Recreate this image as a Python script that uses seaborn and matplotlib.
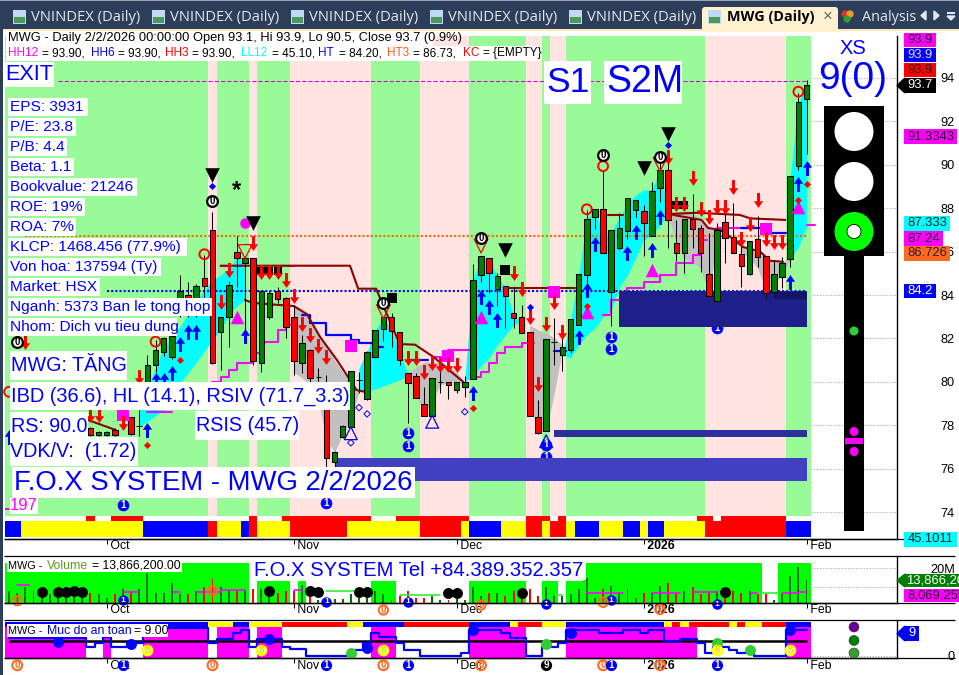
import numpy as np
import matplotlib
matplotlib.use("Agg")
import matplotlib.pyplot as plt
from matplotlib.path import Path
from matplotlib.patches import Rectangle, Circle, Polygon, FancyBboxPatch
import seaborn as sns

sns.set_theme(style="ticks")
plt.rcParams['font.family'] = ['Liberation Sans', 'DejaVu Sans']
N = np.nan

# ---------- candles (bar index = position in these lists) ----------
OPEN = [N]*10 + [77.87,77.55,77.55,77.78,N,78.37,77.98,79.85,80.77,81.36,81.15,83.2,84.0,83.2,84.77,86.98,82.28,82.97,85.97,85.46,
 85.69,80.85,82.97,84.17,83.85,82.97,80.85,81.45,80.24,79.02,76.29,77.47,77.93,80.07,79.19,81.16,82.45,82.99,82.28,80.39,
 80.25,78.96,78.44,79.99,79.99,79.63,79.78,80.14,84.94,85.69,84.26,84.43,83.16,82.99,82.28,78.36,77.75,81.85,81.24,81.46,
 82.63,84.94,87.58,87.95,84.15,86.15,86.96,87.93,87.87,86.73,88.95,89.76,86.4,85.95,87.5,87.07,84.95,83.74,87.35,86.66,
 85.88,84.95,86.57,85.8,84.15,84.85,85.67,89.96,93.05]
HIGH = [N]*10 + [77.9,77.75,77.75,77.85,N,78.4,78.7,81.23,81.93,82.05,82.43,84.9,84.61,84.5,85.84,87.83,83.0,84.65,86.72,85.8,
 85.7,84.2,84.2,84.37,83.9,83.54,82.16,81.5,80.62,80.31,76.8,78.0,80.5,80.47,81.4,82.4,83.0,83.17,82.3,80.4,
 80.4,79.77,80.18,80.54,80.0,80.0,80.27,85.41,85.8,85.7,85.01,84.43,84.37,83.54,82.3,79.16,81.96,82.94,82.3,82.9,
 84.95,87.92,87.95,89.76,86.98,87.78,88.45,88.36,88.15,89.22,90.14,90.3,87.46,87.5,88.65,87.23,86.86,87.32,87.78,88.24,
 86.54,86.5,87.64,85.8,85.6,85.75,89.5,93.32,93.9]
LOW = [N]*10 + [77.5,77.5,77.5,77.5,N,77.55,77.5,79.7,80.45,81.19,81.06,83.0,83.0,83.0,83.77,80.8,80.54,81.62,84.38,82.39,
 80.77,80.45,82.9,83.63,82.0,80.31,80.4,79.9,79.85,76.09,75.7,77.4,77.9,79.5,79.15,81.1,81.89,81.62,80.77,78.12,
 79.25,78.44,78.42,79.5,79.2,79.5,79.31,80.14,84.61,84.1,83.51,82.5,82.5,82.26,78.42,77.6,77.75,80.77,80.52,81.33,
 82.6,84.46,87.03,85.95,82.57,86.07,86.6,87.6,85.81,86.7,88.3,86.18,85.58,85.0,86.17,85.07,83.97,83.74,85.49,85.93,
 84.38,84.9,85.3,83.86,84.1,84.32,85.3,89.76,90.5]
CLOSE = [N]*10 + [77.55,77.7,77.7,77.55,N,77.58,77.98,80.77,81.47,82.0,82.11,84.17,83.3,84.43,84.43,80.85,82.97,84.45,85.69,85.69,
 80.97,84.17,84.08,83.83,82.54,80.97,81.77,80.16,80.24,76.47,76.75,77.96,80.48,80.07,81.36,82.37,82.97,82.36,81.0,79.96,
 79.27,78.44,80.16,79.99,79.87,79.99,79.99,84.69,85.8,85.03,84.87,83.97,82.96,82.26,78.44,77.65,81.96,81.85,81.59,82.9,
 84.95,87.5,87.95,85.95,86.98,87.07,88.45,88.36,87.33,88.79,89.76,87.47,85.95,87.49,87.05,85.95,83.97,86.98,86.64,85.95,
 85.35,86.47,85.77,84.09,84.95,85.46,89.48,92.89,93.66]
VOLUME = [8,7,10,8,6,6,7,6,6,6,7,6,4,6,9,8,9,17.5,7,7,12,6,6,8,10,14.5,10,8,8,8,
 9,9,8,7,8,8,11,8,3,4,3.5,3.5,6,4,4,8,6,3,5,8,4,4,5,3,3,3.5,3,10,5,7,
 7,5,8,7,9,5,10,6,5,6,9,15,4,9,10.5,7,9,4,7,7,10.5,12,7,8,10,6,7,8,7,8,
 7,8,6,6,3,6,15.7,20.7,13.9]
SAFETY = [6.1]*10 + [3.2,4.4,6.7,3.2,3.2,4.4,4.4] + [9.6]*8 + [4.4,5.9,5.9,7.8,9.0,3.2,5.9,5.9,5.9,3.2,2.5,2.5] + [0.1]*6 + \
 [2.1,4.4,7.8,6.7,6.7,4.4,2.1,2.1] + [0.1]*5 + [0.9,9,9,9,9,7.8,6.1,6.1,0.1,0.1,3.2,3.2,4.4,9,9,9,9,8.1,8.1,8.1,9,9,8.1,9,9,5.3,5.3,5.9,5.9,4.4,0.9,3.2,3.2,2.1,0.9,0.9,0.1,0.1,0.1,0.1,9,9,9]

# ---------- state runs: (bars, state) ----------
TREND_RUNS = [(25,'g'),(1,'p'),(4,'g'),(1,'p'),(4,'g'),(10,'p'),(6,'g'),(6,'p'),(7,'g'),(2,'p'),(1,'g'),(2,'p'),(17,'g'),(10,'p'),(3,'g')]
STRIP_TOP = [(10,''),(1,'r'),(2,''),(4,'r'),(13,''),(1,'r'),(3,''),(11,'r'),(3,''),(9,'r'),(7,''),(3,'r'),(1,''),(1,'r'),(16,''),(2,'r'),(1,''),(8,'r'),(3,'')]
STRIP_BOT = [(2,'b'),(15,'y'),(8,'b'),(1,'r'),(3,'y'),(1,'b'),(1,'r'),(4,'y'),(7,'r'),(9,'y'),(5,'r'),(1,'y'),(4,'b'),(3,'y'),(2,'r'),(1,'y'),(2,'r'),(1,'y'),(3,'b'),(3,'y'),(2,'b'),(1,'y'),(2,'b'),(5,'y'),(10,'r'),(3,'b')]
VOL_RUNS = [(30,'t'),(1,''),(4,'s'),(1,''),(1,'s'),(8,''),(3,'s'),(9,''),(7,'s'),(2,''),(2,'s'),(1,''),(2,'s'),(22,'t'),(2,''),(4,'t')]
SAFE_STRIP = [(25,'b'),(3,'y'),(2,'b'),(4,'y'),(8,'r'),(2,'y'),(5,'b'),(8,'r'),(5,'b'),(1,'y'),(3,'r'),(3,'y'),(12,'b'),(1,'y'),(1,'r'),(1,'y'),(5,'r'),(1,'y'),(1,'r'),(2,'y'),(3,'r'),(3,'b')]
SAFE_FILL = [(10,'m'),(2,''),(1,'m'),(4,''),(8,'m'),(1,''),(4,'m'),(1,''),(3,'m'),(11,''),(3,'m'),(9,''),(7,'m'),(5,''),(16,'m'),(11,''),(3,'m')]

# ---------- overlays on price ----------
CYAN = [
 ([16,19,21,23,25,26,27,28,29],[78.7,81.6,82.52,83.77,84.69,84.92,85.24,85.7,85.5],[77.92,78.7,79.94,80.9,81.93,82.39,83.08,83.5,83.77]),
 ([43,44,45,46,47,48,49],[80.64,81.37,82.39,82.94,82.39,81.47,80.31],[79.62,79.58,79.67,79.81,79.95,80.08,80.31]),
 ([56,57,58,59,60,61,62,63],[80.08,84.69,85.75,85.52,84.92,84.23,83.08,82.76],[79.99,80.31,80.73,81.1,81.7,82.16,82.62,82.76]),
 ([68,69,70,71,72,73,74,75,76,77,78,79,80,81,82],[81.23,82.85,84.92,87.5,87.96,86.67,86.9,87.55,88.24,88.6,88.84,88.84,89.76,87.78,87.73],
  [81.23,81.1,81.7,82.16,82.48,82.99,83.31,84.37,84.92,85.7,86.53,86.77,87.23,87.69,87.73]),
 ([96,97,98],[89.48,92.85,93.68],[85.7,86.21,87.13]),
]
GRAY = [
 ([35,36,37,38,39,40,41,42,43],[83.49,83.3,82.85,82.2,81.65,81.0,80.45,80.0,79.62],[80.45,80.18,79.85,79.16,77.32,76.77,77.55,78.24,79.53]),
 ([49,50,51,52,53,54,55,56],[80.41,80.68,80.91,80.91,80.87,80.77,80.45,79.99],[80.22,79.39,78.56,79.16,79.85,79.99,79.99,79.9]),
 ([64,65,66,67,68],[82.62,82.39,82.25,82.02,81.7],[79.02,77.64,77.78,79.48,81.47]),
 ([81,82,83,84,85,86,87],[87.69,87.73,87.78,87.78,87.46,87.09,87.0],[87.64,86.3,85.7,85.52,85.24,84.0,86.53]),
 ([90,91,92,93,94,95,96],[86.21,86.07,85.98,85.7,85.52,85.52,85.7],[85.98,85.7,85.24,84.23,84.55,84.92,85.7]),
]
BROWN = [
 ([26,41.9,42.9,45.1,48,49.9,52.1,55.8],[85.35,85.35,84.29,84.29,81.74,81.71,81.16,80.0]),
 ([61,69.6],[84.32,84.32]),
 ([73.6,75.5],[87.69,87.69]),
 ([81,84.5,89.8,91.1,95.4],[87.73,87.79,87.69,87.53,87.46]),
 ([29,30,35,36.6,38.2,40.3,42.7,43.7],[83.77,83.63,83.49,83.12,82.08,81.0,79.62,79.54]),
 ([9.7,13.1],[78.24,77.78]),
 ([81.6,85.1,85.9,87.4,88.6,90.2,92.3,93.5,95.1],[87.69,87.46,87.09,87.0,86.69,86.21,86.0,85.58,85.53]),
]
MAGENTA = [
 ([25,26,27,28,30,31,33,34,35],[80.0,80.24,80.54,80.88,81.34,81.85,82.39,82.62,82.62]),
 ([17,20],[78.62,78.62]),
 ([26,27],[85.35,85.35]),
 ([33,35],[85.35,85.35]),
 ([52,54,57,57.4],[81.16,81.47,82.25,82.7]),
 ([57,58,59,60,61,63,64.5],[80.2,80.47,80.87,81.33,81.62,81.77,81.77]),
 ([73,74,76,78,80,82,84,85,85.8],[83.08,83.77,84.32,84.6,84.92,85.47,85.84,86.53,86.53]),
 ([87,91],[87.09,87.09]),
 ([98,99],[87.24,87.24]),
]
BLUE_STEP = [
 ([36,37,39,41,42,43,45,46],[83.08,82.71,82.16,82.16,81.93,81.79,81.6,81.6]),
 ([49,51.5],[81.0,81.0]),
 ([67,68.5],[81.4,81.4]),
 ([90,93,95.5],[87.09,86.85,86.85]),
]
ZONES = [(75,98.06,84.2,82.53,'#1F1F8C'),(94,98.06,84.14,83.82,'#141466'),(40,98.06,76.49,75.43,'#4040C0'),(67,98.06,77.78,77.46,'#2E2E9C')]
H_LEVELS = [(6,98,93.86,'#CC00CC',(0,(4,2)),0.75),(2,98,86.73,'#FF6600',(0,(1,1)),1.5),(12,98,84.2,'#0000FF',(0,(1,1)),1.5)]

UP_BARS = [98,97,96,80,79,77,76,72,71,70,58,59,60,57,29,22,23,21,20,19,18,17,0]
UP_VALS = [89.84,89.12,84.61,87.61,86.07,86.92,85.92,86.35,84.23,82.08,83.92,83.43,82.85,79.5,82.12,82.31,82.31,81.73,80.42,80.08,80.08,77.78,77.46]
DN_BARS = [84,89,92,85,87,88,82,83,86,91,90,93,94,95,81,62,63,64,66,67,68,65,49,50,51,52,53,54,55,27,26,30,31,32,33,34,35,36,37,38,39,16,10,11,14,2]
DN_VALS = [89.38,88.96,88.38,87.95,88.04,88.04,88.18,88.18,87.61,87.26,86.57,86.57,86.46,86.46,90.35,85.03,84.26,82.97,82.65,83.66,82.28,79.88,81.1,81.1,80.47,80.85,80.77,80.77,80.77,85.15,83.66,86.41,85.05,85.05,85.05,84.69,83.95,82.66,82.16,81.66,81.16,80.24,78.47,78.47,78.1,81.85]
MTRI_B, MTRI_V = [28,58,79,97,71],[82.97,83.0,85.15,88.07,83.23]
BTRI_B, BTRI_V = [25,30,61,81,78],[89.53,87.33,86.07,91.41,89.84]
RTRI_B, RTRI_V = [29,46,58,80],[86.0,83.23,86.26,90.02]
ZERO_B, ZERO_V = [25,46,58,73,80,1],[88.33,83.62,86.64,90.45,90.36,81.83]
RRING_B, RRING_V = [24,18,71,73,97,0],[85.88,81.85,87.95,89.94,93.37,79.54]
BDIA_B, BDIA_V = [25,81,64],[89.03,90.9,83.46]
RDIA_B, RDIA_V = [21,17,57,98,97,71],[81.0,77.09,78.79,89.12,88.38,83.49]
MSQ_B, MSQ_V = [42,54,67,93,14],[81.66,81.2,84.15,87.03,78.47]
BSQ_B, BSQ_V = [47,61],[83.88,85.15]
BSQS_B, BSQS_V = [82,83,31,32,33],[88.15,88.15,85.1,85.1,85.1]
HTRI_B, HTRI_V = [52,42,66],[78.16,77.63,77.26]
HDIA_B, HDIA_V = [43,44,42,56],[78.81,78.52,77.19,78.62]
ONE_B, ONE_V = [49,49,14,39,74,74,66,66,87],[77.65,77.04,74.32,74.41,81.51,82.08,77.09,76.55,82.48]
STAR_B, STAR_V = 28, 88.8
MCIRC_B, MCIRC_V = 29, 87.3

# volume panel
VDOT_B = [4,6,7,8,9,32,37,38,43,44,54,55,63,88]
VDOT_V = [7.5,7.5,7.5,7.8,7.5,7.7,7.7,7.5,7.2,7.2,6.9,6.8,6.8,7.1]
VMA_M = [([1,2.5],[11,11]),([14,16],[7.5,7.5]),([20,21],[7.5,7.5]),([23,26,29],[7.5,8.5,8.5]),([35,36],[8.5,8.5]),([71,75.5],[6.9,6.9]),([79,82.5],[6.9,6.9]),([84,87],[7.1,7.1]),([91,92],[7,7]),([95,97,98],[6.9,7.1,7.5])]
VMA_G = [([39,44],[8,6.9]),([48,53],[5.7,5.7]),([67,68],[5.5,5.5]),([92,94.5],[6.9,6.9])]
VORG_B, VORG_V = [1,46,58,73,80,25],[2.67,-2.3,0.37,1.8,-2,7.86]
VONE_B, VONE_V = [14,39,49,66,74,87],[3,2,2,0.9,3,0.9]

# safety panel
SBLUE_B, SBLUE_V = [6,15,32,44,57,69,96],[5,4,5.9,2.9,9,7.8,9]
SGRN_B, SGRN_V = [42,66,87,91],[0.9,4.15,4.4,2]
S8_B = [17,31,46,87,96]; S8_V = 2.08
ROW_ORG = [1,25,46,58,73,80]; ROW_ONE = [14,39,49,74,87]; ROW_NINE = [66]; ROW_V = -3.2

X_TICKS = [12,35,55,78,98]
X_LABELS = [' Oct',' Nov',' Dec',' 2026',' Feb']
Y_TICKS = [74,76,78,80,82,84,86,88,90,92,94]

# ---------- layout ----------
W, H = 959, 675
fig = plt.figure(figsize=(W/100, H/100), dpi=100, facecolor='white')
def axpx(x0, x1, yt, yb, **k):
    return fig.add_axes([x0/W, 1-yb/H, (x1-x0)/W, (yb-yt)/H], **k)
XL = (-0.5, 109.12)
MAIN_T, MAIN_B = 36, 539
ax = axpx(5, 897, MAIN_T, MAIN_B)
vx = axpx(5, 897, 556, 603)
sx = axpx(5, 897, 620, 658.3)

PAL = {'g':'#98FB98','p':'#FFE4E1','r':'#FF0000','y':'#FFFF00','b':'#0000FF','t':'#00FF00','s':'#00FF00','m':'#FF00FF'}
def runs(a, rr, y0, y1, z=1):
    k = 0
    for n, s in rr:
        if s:
            a.axvspan(k-.5, k+n-.5, ymin=y0, ymax=y1, color=PAL[s], lw=0, zorder=z)
        k += n
def frac(y, t=MAIN_T, b=MAIN_B):
    return (b-y)/(b-t)

runs(ax, TREND_RUNS, frac(516), 1)
runs(ax, STRIP_TOP, frac(521), frac(516))
runs(ax, STRIP_BOT, frac(537), frac(521))

for b, u, l in GRAY:
    ax.fill_between(b, l, u, color='#C0C0C0', lw=0, zorder=2)
for b, u, l in CYAN:
    ax.fill_between(b, l, u, color='#00FFFF', lw=0, zorder=2.1)
for x0, x1, v, c, ls, lw in H_LEVELS:
    ax.hlines(v, x0, x1, color=c, linestyles=[ls], lw=lw, zorder=2.5)

def line(a, x, y, c, lw, ds='default', z=3):
    sns.lineplot(x=x, y=y, ax=a, color=c, linewidth=lw, estimator=None, sort=False,
                 drawstyle=ds, legend=False, zorder=z, errorbar=None)
for x, y in MAGENTA:
    line(ax, x, y, '#FF00FF', 1.5, 'steps-post')
for x, y in BLUE_STEP:
    line(ax, x, y, '#0000FF', 1.6, 'steps-post')
for x, y in BROWN:
    line(ax, x, y, '#8B0000', 1.5)

def pts(a, b, v, m, s, c, ec=None, lw=0, z=6):
    sns.scatterplot(x=b, y=v, ax=a, marker=m, s=s, color=c, edgecolor=ec if ec else c,
                    linewidth=lw, zorder=z, legend=False, clip_on=False)
def hollow(a, b, v, m, s, ec, lw=1.0, fc='none', z=6):
    a.scatter(b, v, marker=m, s=s, facecolors=fc, edgecolors=ec, linewidths=lw, zorder=z, clip_on=False)

def circled(a, b, v, t, fc, ec, tc, s=60, lw=1.5, z=3, fs=7):
    hollow(a, b, v, 'o', s, ec, lw, fc, z)
    for bb, yy in zip(b, v):
        a.text(bb, yy, t, ha='center', va='center', color=tc, fontsize=fs, fontweight='bold', zorder=z+.1)

# blue circled ones lie below the zones
circled(ax, ONE_B, ONE_V, '1', '#0000FF', '#0000FF', 'white', s=62, lw=0.5)
for x0, x1, t, b, c in ZONES:
    ax.fill_between([x0, x1], b, t, color=c, lw=0, zorder=4)

o, h, l, c = map(lambda q: np.array(q, float), (OPEN, HIGH, LOW, CLOSE))
bars = np.arange(len(o))
ok = ~np.isnan(o)
up = c >= o
ax.vlines(bars[ok], l[ok], h[ok], color='black', lw=0.75, zorder=5)
ax.bar(bars[ok], np.abs(c-o)[ok], bottom=np.minimum(o, c)[ok], width=0.68,
       color=np.where(up[ok], '#008000', '#FF0000'), edgecolor='black', linewidth=0.75, zorder=5.1)

ARROW_D = Path([(-.2,1),(.2,1),(.2,-.1),(.62,-.1),(0,-1),(-.62,-.1),(-.2,-.1),(-.2,1)], closed=True)
ARROW_U = Path([(-.2,-1),(.2,-1),(.2,.1),(.62,.1),(0,1),(-.62,.1),(-.2,.1),(-.2,-1)], closed=True)
pts(ax, UP_BARS, UP_VALS, ARROW_U, 115, '#0000FF')
pts(ax, DN_BARS, DN_VALS, ARROW_D, 115, '#FF0000')
pts(ax, MTRI_B, MTRI_V, '^', 95, '#FF00FF')
pts(ax, BTRI_B, BTRI_V, 'v', 110, 'black')
hollow(ax, RTRI_B, RTRI_V, 'v', 100, '#FF0000', 0.9)
circled(ax, ZERO_B, ZERO_V, '0', 'white', 'black', 'black', s=60, lw=1.6, z=6.5, fs=7)
hollow(ax, RRING_B, RRING_V, 'o', 50, '#FF0000', 1.4)
pts(ax, BDIA_B, BDIA_V, 'D', 13, '#0000FF')
pts(ax, RDIA_B, RDIA_V, 'D', 13, '#FF0000')
pts(ax, MSQ_B, MSQ_V, 's', 68, '#FF00FF', z=5.5)
pts(ax, BSQ_B, BSQ_V, 's', 62, 'black', z=5.5)
pts(ax, BSQS_B, BSQS_V, 's', 34, 'black', z=5.5)
hollow(ax, HTRI_B, HTRI_V, '^', 85, '#0000FF', 0.9, z=5.6)
hollow(ax, HDIA_B, HDIA_V, 'D', 11, '#0000FF', 0.7)
pts(ax, [MCIRC_B], [MCIRC_V], 'o', 58, '#FF00FF', z=5.5)
ax.text(STAR_B, STAR_V, '*', fontsize=17, ha='center', va='center', color='black', fontweight='bold', zorder=7)

# ---------- volume ----------
runs(vx, VOL_RUNS, 0, 1)
vol = np.array(VOLUME, float)
volc = np.where((~ok) | up, '#007000', '#FF0000')
vx.bar(bars, vol, width=0.24, color=volc, lw=0, zorder=3)
for x, y in VMA_M:
    line(vx, x, y, '#FF00FF', 1.2, 'steps-post', z=3.5)
for x, y in VMA_G:
    line(vx, x, y, '#33EE33', 1.2, 'steps-post', z=3.5)
pts(vx, VDOT_B, VDOT_V, 'o', 62, 'black', z=4)
circled(vx, VONE_B, VONE_V, '1', '#0000FF', '#0000FF', 'white', s=40, lw=1.2, z=4.5, fs=6)
circled(vx, VORG_B, VORG_V, '0', 'none', '#FF6A20', '#FF6A20', s=45, lw=1.4, z=4.6, fs=7)

# ---------- safety ----------
SF_T, SF_B = 620, 658.3
sfrac = lambda y: frac(y, SF_T, SF_B)
runs(sx, SAFE_FILL, 0, sfrac(627))
runs(sx, SAFE_STRIP, sfrac(627), sfrac(622))
sx.hlines(5.25, 0, 98, color='black', lw=1.8, zorder=3)
line(sx, bars, SAFETY, '#0000FF', 1.6, 'steps-mid', z=3.5)
pts(sx, SBLUE_B, SBLUE_V, 'o', 62, '#0000FF', z=4)
pts(sx, SGRN_B, SGRN_V, 'o', 62, '#32CD32', z=4)
circled(sx, S8_B, [S8_V]*len(S8_B), '8', 'white', '#FFFF00', '#DDDD00', s=42, lw=2, z=4.5, fs=7)
circled(sx, ROW_ORG, [ROW_V]*len(ROW_ORG), '0', 'none', '#FF6A20', '#FF6A20', s=50, lw=1.5, z=4.5, fs=7)
circled(sx, ROW_ONE, [ROW_V]*len(ROW_ONE), '1', '#0000FF', '#0000FF', 'white', s=50, lw=1, z=4.5, fs=7)
circled(sx, ROW_NINE, [ROW_V], '9', 'black', 'black', 'white', s=50, lw=1, z=4.5, fs=7)

# ---------- axes ----------
ax.set_ylim(94-(MAIN_B-78)/21.7, 94+(78-MAIN_T)/21.7)
vx.set_ylim(10-(603-587)/1.87, 20+(568.3-556)/1.87)
sx.set_ylim((656-658.3)/2.89, (656-620)/2.89)
DOT = '#AAAAAA'
for a, ticks, labels in ((ax, Y_TICKS, [str(t) for t in Y_TICKS]), (vx, [10, 20], ['', '20M']), (sx, [0], ['0'])):
    a.set_xlim(*XL)
    a.set_xlabel(''); a.set_ylabel('')
    a.set_facecolor('white')
    a.yaxis.tick_right()
    a.set_yticks(ticks, labels, fontsize=9.2, ha='right')
    a.tick_params(axis='y', length=3.5, width=.7, pad=38, color='black', labelcolor='black')
    a.set_xticks(X_TICKS, X_LABELS, fontsize=8.8, ha='left')
    a.tick_params(axis='x', length=3.5, width=.7, pad=-2.5, color='black', labelcolor='black')
    a.get_xticklabels()[3].set_fontweight('bold')
    sns.despine(ax=a, left=True, top=True, right=False, bottom=False)
    for sp in ('right', 'bottom'):
        a.spines[sp].set_color('black'); a.spines[sp].set_linewidth(1.0)
    a.hlines(ticks, 98.55, XL[1], color=DOT, linestyles=[(0, (1, 1.5))], lw=.8, zorder=.5)
# short runs: mask their upper part
k = 0
for n, s in VOL_RUNS:
    if s == 's':
        vx.axvspan(k-.5, k+n-.5, ymin=frac(581, 556, 603), ymax=1, color='white', lw=0, zorder=1.2)
    k += n
vx.axhspan(vx.get_ylim()[1]-3.74, vx.get_ylim()[1], color='white', lw=0, zorder=1.3)

# ---------- pixel overlay ----------
ov = fig.add_axes([0, 0, 1, 1], zorder=10)
ov.set_xlim(0, W); ov.set_ylim(H, 0); ov.axis('off'); ov.patch.set_alpha(0)
def rect(x0, y0, x1, y1, c, z=1):
    ov.add_patch(Rectangle((x0, y0), x1-x0, y1-y0, color=c, lw=0, zorder=z))
def txt(x, y, s, size, c='black', ha='left', w='normal', z=3, fam=None):
    return ov.text(x, y, s, fontsize=size, color=c, ha=ha, va='center', fontweight=w, zorder=z,
                   **({'family': fam} if fam else {}))
BLUE = '#0000FF'
def box(x0, y0, x1, y1, s, size, c=BLUE, tx=None):
    rect(x0, y0, x1, y1, 'white', 2)
    txt((x0+1 if tx is None else tx), (y0+y1)/2, s, size, c)

# tab strip
NAVY = '#2C3E5A'
rect(0, 0, W, 29, NAVY); rect(0, 0, W, 1.2, '#9AA5B5', 1.5); rect(0, 0, 3, H, NAVY)
rect(3, 29, W, 31, '#FFE9B8', 1)
for x in (13, 152, 291, 430, 569):
    rect(x, 10, x+13, 24, '#BFD9F2', 1.5); rect(x+1, 17, x+12, 23, '#4C9A5B', 1.6)
    txt(x+18, 17.5, 'VNINDEX (Daily)', 10.6, '#E4E8EE', fam='Open Sans')
ov.add_patch(FancyBboxPatch((702, 7), 136, 25, boxstyle='round,pad=0,rounding_size=3', color='#FFF0CF', lw=0, zorder=1.7))
rect(708, 10, 721, 24, '#BFD9F2', 1.8); rect(709, 17, 720, 23, '#4C9A5B', 1.9)
txt(727, 17.5, 'MWG (Daily)', 10.4, 'black', w='bold', fam='Open Sans')
txt(828, 16.5, '×', 12, '#666666', ha='center')
ov.scatter([845, 850, 847], [14, 14, 19], s=[18, 18, 18], c=['#E03030', '#E8A020', '#30A030'], marker='o', zorder=2)
txt(862, 17.5, 'Analysis', 10.4, '#E4E8EE', fam='Open Sans')
ov.add_patch(Polygon([(921, 15.5), (926, 11), (926, 20)], color='#E4E8EE', zorder=2))
ov.add_patch(Polygon([(939, 15.5), (934, 11), (934, 20)], color='#E4E8EE', zorder=2))
rect(947, 12, 955, 13.5, '#E4E8EE', 2)
ov.add_patch(Polygon([(947, 16), (955, 16), (951, 20)], color='#E4E8EE', zorder=2))

# legends of the price pane
rect(6, 32, 433, 46, 'white', 2)
rect(6, 46, 541, 61, 'white', 2)
txt(8, 38.5, 'MWG - Daily 2/2/2026 00:00:00 Open 93.1, Hi 93.9, Lo 90.5, Close 93.7 (0.9%)', 9.3)
LEG2 = [(8,'HH12','#FF00FF'),(42,'= 93.90,','black'),(91,'HH6','#0000FF'),(118,'= 93.90,','black'),(165,'HH3','#FF0000'),
        (192,'= 93.90,','black'),(240.5,'LL12','#00FFFF'),(272,'= 45.10,','black'),(318,'HT','#0000FF'),(339,'= 84.20,','black'),
        (387,'HT3','#FF5A1E'),(413,'= 86.73,','black'),(463,'KC','#FF0000'),(483,'= {EMPTY}','black')]
for x, s, col in LEG2:
    txt(x, 53, s, 8.5, col)

box(5, 62, 54, 87, 'EXIT', 15.6, tx=5.5)
INFO = ['EPS: 3931','P/E: 23.8','P/B: 4.4','Beta: 1.1','Bookvalue: 21246','ROE: 19%','ROA: 7%','KLCP: 1468.456 (77.9%)',
        'Von hoa: 137594 (Ty)','Market: HSX','Nganh: 5373 Ban le tong hop','Nhom: Dich vu tieu dung']
INFO_R = [88,76,67,74,137,85,76,187,161,100,212,177]
for i, (s, r) in enumerate(zip(INFO, INFO_R)):
    y = 107+20*i
    box(8, y-9, r, y+9, s, 11.1, tx=9.5)
box(10, 351, 127, 380, 'MWG: TĂNG', 14.2, tx=11)
box(10, 382, 350, 410, 'IBD (36.6), HL (14.1), RSIV (71.7_3.3)', 14.4, tx=11)
box(10, 412, 88, 440, 'RS: 90.0', 14.2, tx=11)
box(195, 411, 299, 440, 'RSIS (45.7)', 14.2, tx=196)
box(10, 437, 138, 466, 'VDK/V:  (1.72)', 14.2, tx=10)
box(12, 467, 415, 498, 'F.O.X SYSTEM - MWG 2/2/2026', 19.8, tx=14)
box(10, 498, 38, 514, '197', 12, c='#FF00FF', tx=10)
rect(5, 508, 9, 509.5, '#FF00FF', 2)
box(544, 61, 591, 104, 'S1', 25.5, tx=546)
box(604, 61, 682, 104, 'S2M', 27, tx=606)
txt(853, 48, 'XS', 14.5, BLUE, ha='center')
txt(853, 79, '9(0)', 28, BLUE, ha='center')

# traffic light
rect(824, 106, 884, 256, 'black', 2); rect(844, 256, 864, 531, 'black', 2)
for y in (131.5, 181.5):
    ov.add_patch(Circle((854, y), 19.5, color='white', lw=0, zorder=3))
ov.add_patch(Circle((854, 231.5), 19.5, color='#00FF00', lw=0, zorder=3))
ov.add_patch(Circle((854, 231.5), 7, color='white', ec='black', lw=.6, zorder=4))
ov.add_patch(Circle((854, 331), 4.5, color='#32CD32', lw=0, zorder=3))
ov.add_patch(Circle((854, 431.5), 4.5, color='#FF00FF', lw=0, zorder=3))
ov.add_patch(Circle((854, 451.5), 4.5, color='#FF00FF', lw=0, zorder=3))
rect(845, 438, 863, 444, '#FF00FF', 3)
for y, col in ((627, '#660099'), (640.5, '#008000'), (653, '#32A032')):
    ov.add_patch(Circle((854, y), 5, color=col, ec='#333333', lw=.4, zorder=3))

# price tags
TAGS = [(904,936,33,47,'93.9','#FF00FF','#222222'),(904,936,48,62,'93.9','#0000FF','#DDDDDD'),(904,936,63,77,'93.9','#FF0000','#222222'),
        (904,936,78,93,'93.7','black','white'),(904,957,129,144,'91.3343','#FF00FF','#222222'),(904,950,216,231,'87.333','#00FFFF','#222222'),
        (904,943,231,246,'87.24','#FF00FF','#222222'),(904,950,246,261,'86.726','#FF6A20','#222222'),(904,936,284,298,'84.2','#0000FF','white'),
        (904,957,532,547,'45.1011','#00FFFF','#222222'),(904,959,589,602,'8,069,255','#FF00FF','#222222')]
for x0, x1, y0, y1, s, bg, fg in TAGS:
    rect(x0, y0, x1, y1, bg, 4)
    txt(x0+3.5, (y0+y1)/2, s, 9.4, fg, z=5)
ov.add_patch(Polygon([(897, 85.5), (905, 78), (905, 93)], color='black', zorder=4))
rect(905, 574, 959, 587, '#008000', 4)
ov.add_patch(Polygon([(897, 580.5), (905, 574), (905, 587)], color='#008000', zorder=4))
txt(906, 580.5, '13,866,200', 9.4, 'white', z=5)
rect(905, 626, 919, 641, '#0000FF', 4)
ov.add_patch(Polygon([(897, 633.5), (905, 626), (905, 641)], color='#0000FF', zorder=4))
txt(912, 633.5, '9', 9.4, 'white', ha='center', z=5)

# separators
for y in (539.3, 556, 603, 620, 658.3):
    ov.plot([4, 955], [y, y], color='black', lw=.9, zorder=1.2, solid_capstyle='butt')

# sub-pane captions
rect(7, 560, 182, 572, 'white', 2)
txt(8, 566, 'MWG -', 7.8); txt(47, 566, 'Volume', 8.8, '#5B9A1B'); txt(92, 566, '= 13,866,200.00', 8.8)
box(254, 562, 586, 580, 'F.O.X SYSTEM Tel +84.389.352.357', 14.6, tx=254)
rect(7, 624, 168, 637, 'white', 2)
txt(8, 630.5, 'MWG -', 7.8); txt(47, 630.5, 'Muc do an toan', 8.8, '#0000CC'); txt(134, 630.5, '= 9.00', 8.8)

fig.savefig('out.png', dpi=100)
